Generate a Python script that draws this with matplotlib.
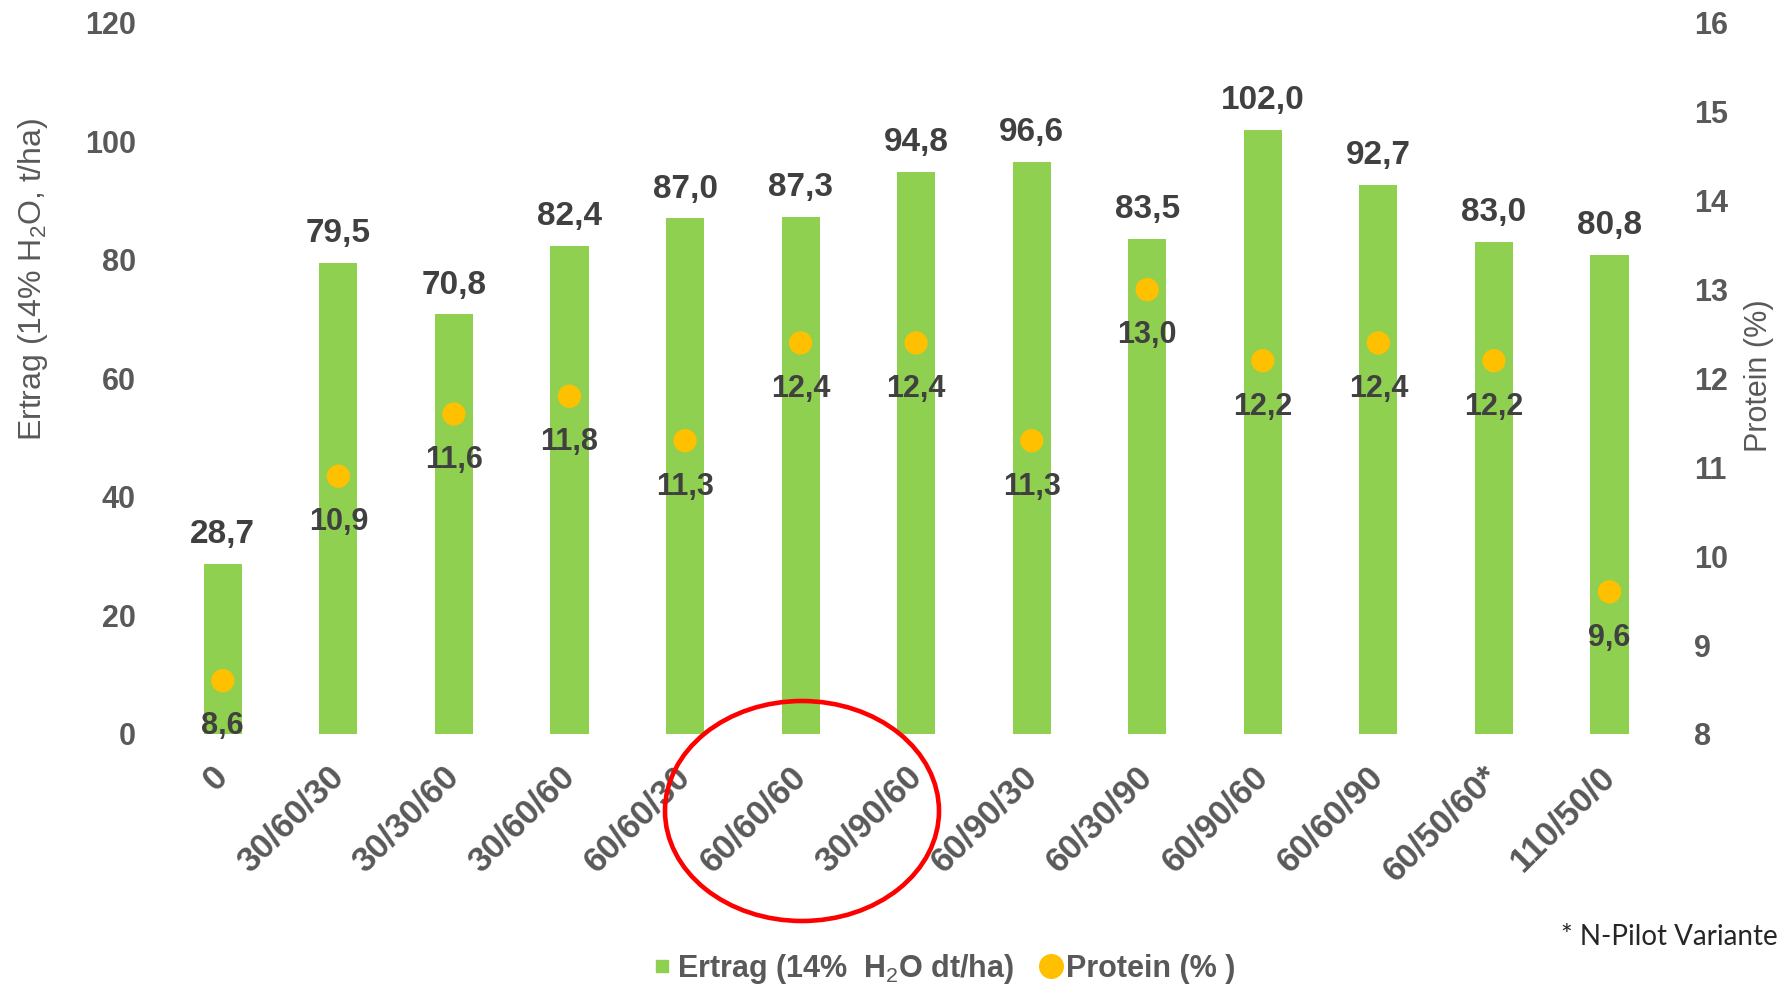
import matplotlib
matplotlib.use("Agg")
import matplotlib.pyplot as plt
import numpy as np
from matplotlib.lines import Line2D
from matplotlib.patches import Ellipse

variants = ["0", "30/60/30", "30/30/60", "30/60/60", "60/60/30", "60/60/60", "30/90/60",
            "60/90/30", "60/30/90", "60/90/60", "60/60/90", "60/50/60*", "110/50/0"]
ertrag = [28.7, 79.5, 70.8, 82.4, 87.0, 87.3, 94.8, 96.6, 83.5, 102.0, 92.7, 83.0, 80.8]
protein = [8.6, 10.9, 11.6, 11.8, 11.3, 12.4, 12.4, 11.3, 13.0, 12.2, 12.4, 12.2, 9.6]
ertrag_ticks = [0, 20, 40, 60, 80, 100, 120]
protein_ticks = [8, 9, 10, 11, 12, 13, 14, 15, 16]

GREEN = "#90D050"
ORANGE = "#FFC000"
TICK_GREY = "#595959"
LABEL_DARK = "#404040"

plt.rcParams["font.family"] = ["Liberation Sans", "DejaVu Sans"]
plt.rcParams["mathtext.fontset"] = "custom"
plt.rcParams["mathtext.rm"] = "Liberation Sans"
plt.rcParams["mathtext.bf"] = "Liberation Sans:bold"


def fmt(v):
    return f"{v:.1f}".replace(".", ",")


fig = plt.figure(figsize=(17.82, 9.9), dpi=100)
ax = fig.add_axes([0.0926, 0.2586, 0.843, 0.7182])
x = np.arange(len(variants))

ax.bar(x, ertrag, width=0.33, color=GREEN, zorder=2)
ax.set_xlim(-0.5, len(variants) - 0.5)
ax.set_ylim(0, 120)
ax.set_yticks(ertrag_ticks)
ax.set_xticks(x)
ax.set_xticklabels(variants, rotation=45, ha="right", va="center", rotation_mode="anchor",
                   fontsize=25, fontweight="bold", color=TICK_GREY)
ax.tick_params(axis="x", length=0, pad=27)
ax.tick_params(axis="y", length=0, pad=21, labelsize=22, labelcolor=TICK_GREY)
for t in ax.get_yticklabels():
    t.set_fontweight("bold")
for s in ax.spines.values():
    s.set_visible(False)

for xi, v in zip(x, ertrag):
    ax.annotate(fmt(v), (xi, v), xytext=(0, 10), textcoords="offset points",
                ha="center", va="bottom", fontsize=24, fontweight="bold", color=LABEL_DARK)

ax2 = ax.twinx()
ax2.scatter(x, protein, s=280, color=ORANGE, zorder=3, edgecolors="none")
ax2.set_ylim(8, 16)
ax2.set_yticks(protein_ticks)
ax2.tick_params(axis="y", length=0, pad=19, labelsize=22, labelcolor=TICK_GREY)
for t in ax2.get_yticklabels():
    t.set_fontweight("bold")
for s in ax2.spines.values():
    s.set_visible(False)

for xi, v in zip(x, protein):
    ax2.annotate(fmt(v), (xi, v), xytext=(0, -33), textcoords="offset points",
                 ha="center", va="center", fontsize=22, fontweight="bold", color=LABEL_DARK)

fig.text(33 / 1782, 1 - 279 / 990, "Ertrag (14% H$_2$O, t/ha)", rotation=90,
         ha="center", va="center", fontsize=23, color=TICK_GREY)
fig.text(1759 / 1782, 1 - 376 / 990, "Protein (%)", rotation=90,
         ha="center", va="center", fontsize=22, color=TICK_GREY)

# footnote sits at the right edge; right-aligned so it stays inside the figure
fig.text(1778 / 1782, 1 - 937 / 990, "* N-Pilot Variante", ha="right", va="center",
         fontsize=20, color="#262626", family=["Lato", "DejaVu Sans"])

handles = [
    Line2D([], [], marker="s", color=GREEN, linestyle="none", markersize=9),
    Line2D([], [], marker="o", color=ORANGE, linestyle="none", markersize=17),
]
leg = fig.legend(handles, ["Ertrag (14%  H$_2$O dt/ha)", "Protein (% )"],
                 loc="center", bbox_to_anchor=(0.529, 1 - 969 / 990), ncol=2,
                 frameon=False, fontsize=22, handlelength=0.8, handletextpad=0.1,
                 columnspacing=0.8, labelcolor=TICK_GREY)
for t in leg.get_texts():
    t.set_fontweight("bold")

ring = Ellipse((8.02, 1.79), 2.74, 2.20, transform=fig.dpi_scale_trans,
               fill=False, edgecolor="#FF0000", linewidth=3.3)
fig.add_artist(ring)

fig.savefig("out.png", dpi=100)
